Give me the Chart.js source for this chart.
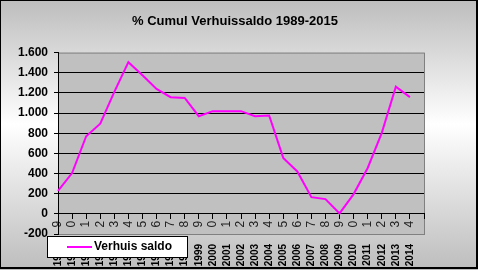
<!DOCTYPE html>
<html lang="nl">
<head>
    <meta charset="UTF-8">
    <title>% Cumul Verhuissaldo 1989-2015</title>
    <script src="https://cdn.jsdelivr.net/npm/chart.js@4.4.0/dist/chart.umd.min.js"></script>
    <style>
        html, body { margin: 0; padding: 0; background: #fff; }
        #wrap { width: 478px; height: 270px; }
    </style>
</head>
<body>
    <div id="wrap">
        <canvas id="chart1" width="478" height="270"></canvas>
    </div>

    <script>
        var years = ['1989', '1990', '1991', '1992', '1993', '1994', '1995', '1996', '1997',
                     '1998', '1999', '2000', '2001', '2002', '2003', '2004', '2005', '2006',
                     '2007', '2008', '2009', '2010', '2011', '2012', '2013', '2014', '2015'];

        var verhuisSaldo = [229, 405, 770, 895, 1210, 1505, 1375, 1240, 1158, 1150, 969, 1019,
                            1019, 1019, 969, 976, 555, 421, 166, 146, 5, 196, 455, 804, 1262, 1158, null];

        var yTicks = { min: -200, max: 1600, step: 200 };

        var titleText = '% Cumul Verhuissaldo 1989-2015';
        var seriesLabel = 'Verhuis saldo';

        var lineColor = '#ff00ff';
        var plotColor = '#c0c0c0';
        var plotBorder = '#808080';

        Chart.defaults.font.family = "'Liberation Sans', Arial, sans-serif";
        Chart.defaults.color = '#000';

        function formatNumber(v) {
            var s = String(Math.abs(v)).replace(/\B(?=(\d{3})+(?!\d))/g, '.');
            return (v < 0 ? '-' : '') + s;
        }

        // background, plot area, and the legend box on top
        var decoration = {
            id: 'decoration',
            beforeDraw: function(chart) {
                var ctx = chart.ctx;
                var w = chart.width, h = chart.height;
                var grad = ctx.createLinearGradient(0, 0, 0, h);
                grad.addColorStop(0, '#bdbdbd');
                grad.addColorStop(0.46, '#ffffff');
                grad.addColorStop(1, '#bdbdbd');
                ctx.save();
                ctx.fillStyle = grad;
                ctx.fillRect(0, 0, w, h);

                var a = chart.chartArea;
                ctx.fillStyle = plotColor;
                ctx.fillRect(a.left, a.top, a.right - a.left, a.bottom - a.top);
                ctx.strokeStyle = plotBorder;
                ctx.lineWidth = 1;
                ctx.strokeRect(a.left + 0.5, a.top + 0.5, a.right - a.left, a.bottom - a.top);
                ctx.restore();
            },
            afterDraw: function(chart) {
                var ctx = chart.ctx;
                ctx.save();
                // legend
                ctx.fillStyle = '#fff';
                ctx.fillRect(47, 236, 141, 21);
                ctx.strokeStyle = '#000';
                ctx.lineWidth = 1;
                ctx.strokeRect(47.5, 236.5, 140, 21);
                ctx.strokeStyle = lineColor;
                ctx.lineWidth = 2;
                ctx.beginPath();
                ctx.moveTo(67, 247);
                ctx.lineTo(92, 247);
                ctx.stroke();
                ctx.fillStyle = '#000';
                ctx.font = "bold 12px 'Liberation Sans', Arial, sans-serif";
                ctx.textBaseline = 'middle';
                ctx.fillText(chart.data.datasets[0].label, 94, 247);

                // outer frame
                ctx.strokeStyle = '#000';
                ctx.lineWidth = 2;
                ctx.strokeRect(0, 0, 477, 268);
                ctx.restore();
            }
        };

        var context1 = document.getElementById('chart1').getContext('2d');
        window.chart1 = new Chart(context1, {
            type: 'line',
            data: {
                labels: years,
                datasets: [{
                    label: seriesLabel,
                    data: verhuisSaldo,
                    borderColor: lineColor,
                    backgroundColor: lineColor,
                    borderWidth: 2,
                    pointRadius: 0,
                    tension: 0,
                    fill: false,
                    xAxisID: 'x',
                    yAxisID: 'y'
                }]
            },
            options: {
                responsive: false,
                animation: false,
                layout: { padding: { left: 0, right: 8, top: 0, bottom: 0 } },
                plugins: {
                    legend: { display: false },
                    tooltip: { enabled: false },
                    title: {
                        display: true,
                        text: titleText,
                        color: '#000',
                        font: { size: 13, weight: 'bold' },
                        padding: { top: 14, bottom: 23 }
                    }
                },
                scales: {
                    x: {
                        type: 'category',
                        position: { y: 0 },
                        offset: false,
                        grid: {
                            display: true,
                            drawOnChartArea: false,
                            drawTicks: true,
                            tickLength: 5,
                            color: '#000'
                        },
                        border: { display: true, color: '#000', width: 1 },
                        ticks: {
                            autoSkip: false,
                            minRotation: 90,
                            maxRotation: 90,
                            padding: 2,
                            color: '#222',
                            font: { size: 12 },
                            callback: function(val, idx) {
                                var l = this.getLabelForValue(val);
                                return idx < years.length - 1 ? l.slice(-1) : '';
                            }
                        }
                    },
                    x2: {
                        type: 'category',
                        position: 'bottom',
                        offset: false,
                        grid: { display: false },
                        border: { display: false },
                        ticks: {
                            autoSkip: false,
                            minRotation: 90,
                            maxRotation: 90,
                            padding: 2,
                            color: '#000',
                            font: { size: 10, weight: 'bold' },
                            callback: function(val, idx) {
                                return idx < years.length - 1 ? this.getLabelForValue(val) : '';
                            }
                        },
                        afterFit: function(scale) { scale.height = 36; }
                    },
                    y: {
                        type: 'linear',
                        position: 'left',
                        min: yTicks.min,
                        max: yTicks.max,
                        grid: {
                            color: function(c) {
                                var v = c.tick ? c.tick.value : 0;
                                return (v === yTicks.max || v === yTicks.min) ? 'rgba(0,0,0,0)' : '#000';
                            },
                            tickColor: '#000',
                            tickLength: 4,
                            lineWidth: 1
                        },
                        border: { display: true, color: '#000', width: 1 },
                        ticks: {
                            stepSize: yTicks.step,
                            padding: 6,
                            color: '#000',
                            font: { size: 12, weight: 'bold' },
                            callback: function(v) { return formatNumber(v); }
                        },
                        afterFit: function(scale) { scale.width = 58; }
                    },
                    yRight: {
                        type: 'linear',
                        position: 'right',
                        display: true,
                        grid: { display: false },
                        border: { display: false },
                        ticks: { display: false },
                        afterFit: function(scale) { scale.width = 46; }
                    }
                }
            },
            plugins: [decoration]
        });
    </script>
</body>
</html>
